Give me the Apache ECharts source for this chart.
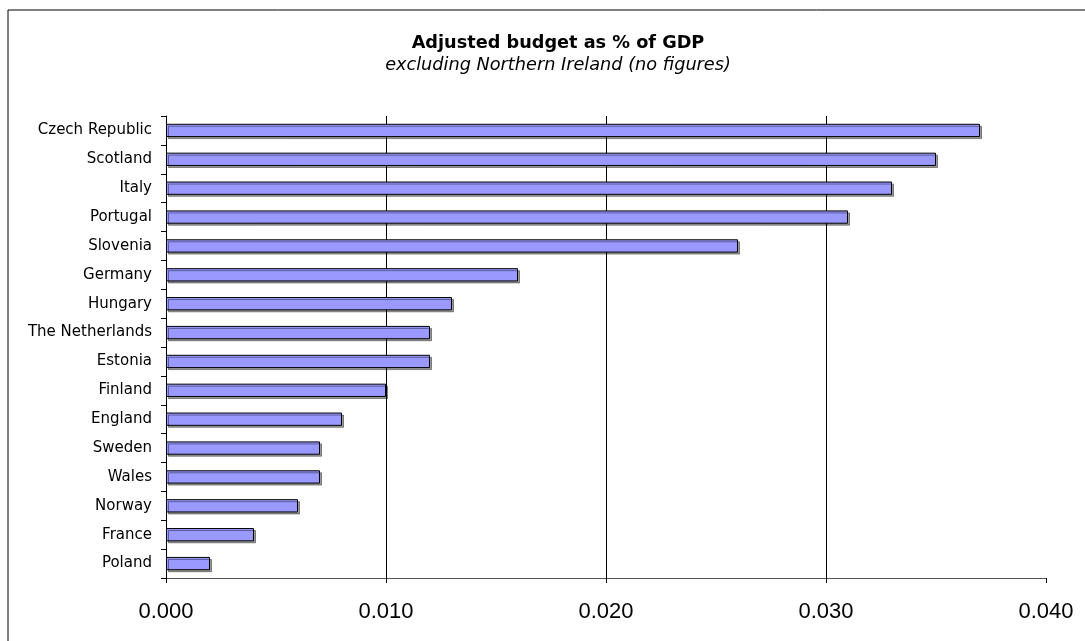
<!DOCTYPE html>
<html>
<head>
<meta charset="utf-8">
<script src="https://cdn.jsdelivr.net/npm/echarts@6/dist/echarts.min.js"></script>
<style>
  html, body { margin: 0; padding: 0; background: #fff; }
  #chart { width: 1085px; height: 641px; }
</style>
</head>
<body>
<div id="chart"></div>
<script>
// Countries, top to bottom
const countries = [
  'Czech Republic', 'Scotland', 'Italy', 'Portugal', 'Slovenia', 'Germany',
  'Hungary', 'The Netherlands', 'Estonia', 'Finland', 'England', 'Sweden',
  'Wales', 'Norway', 'France', 'Poland'
];
// Adjusted budget as share of GDP
const budgetShare = [
  0.037, 0.035, 0.033, 0.031, 0.026, 0.016,
  0.013, 0.012, 0.012, 0.010, 0.008, 0.007,
  0.007, 0.006, 0.004, 0.002
];
const xTicks = { min: 0, max: 0.04, interval: 0.01 };

const chart = echarts.init(document.getElementById('chart'), null, { renderer: 'canvas' });
const wideFont = '"DejaVu Sans", sans-serif';
const tickFont = '"Liberation Sans", Arial, sans-serif';

chart.setOption({
  animation: false,
  backgroundColor: '#ffffff',
  textStyle: { fontFamily: wideFont },
  graphic: [{
    type: 'rect',
    shape: { x: 8, y: 10, width: 1200, height: 800 },
    style: { fill: 'none', stroke: '#000', lineWidth: 1 },
    silent: true
  }],
  title: {
    text: 'Adjusted budget as % of GDP',
    subtext: 'excluding Northern Ireland (no figures)',
    left: 553,
    top: 29,
    textAlign: 'center',
    itemGap: 4,
    textStyle: { fontFamily: wideFont, fontSize: 17.7, fontWeight: 'bold', color: '#000' },
    subtextStyle: { fontFamily: wideFont, fontSize: 17.7, fontStyle: 'italic', color: '#000' }
  },
  grid: { left: 166, right: 39, top: 116, bottom: 63, containLabel: false },
  xAxis: {
    type: 'value',
    min: xTicks.min,
    max: xTicks.max,
    interval: xTicks.interval,
    axisLine: { show: true, lineStyle: { color: '#555', width: 1 } },
    axisTick: { show: true, length: 5, lineStyle: { color: '#000' } },
    axisLabel: {
      fontFamily: tickFont, fontSize: 22, color: '#000', margin: 23,
      formatter: v => v.toFixed(3)
    },
    splitLine: { show: true, showMinLine: false, showMaxLine: false, lineStyle: { color: '#000', width: 1 } }
  },
  yAxis: {
    type: 'category',
    data: countries,
    inverse: true,
    axisLine: { show: true, lineStyle: { color: '#000', width: 1 } },
    axisTick: { show: true, length: 5, inside: false, lineStyle: { color: '#000' } },
    axisLabel: { fontFamily: wideFont, fontSize: 15, color: '#000', margin: 14 }
  },
  series: [{
    type: 'bar',
    data: budgetShare,
    barCategoryGap: '54%',
    itemStyle: {
      color: '#9999ff',
      borderColor: '#000',
      borderWidth: 1,
      shadowColor: 'rgba(0,0,0,0.4)',
      shadowOffsetX: 2,
      shadowOffsetY: 2,
      shadowBlur: 0
    }
  }]
});
</script>
</body>
</html>
